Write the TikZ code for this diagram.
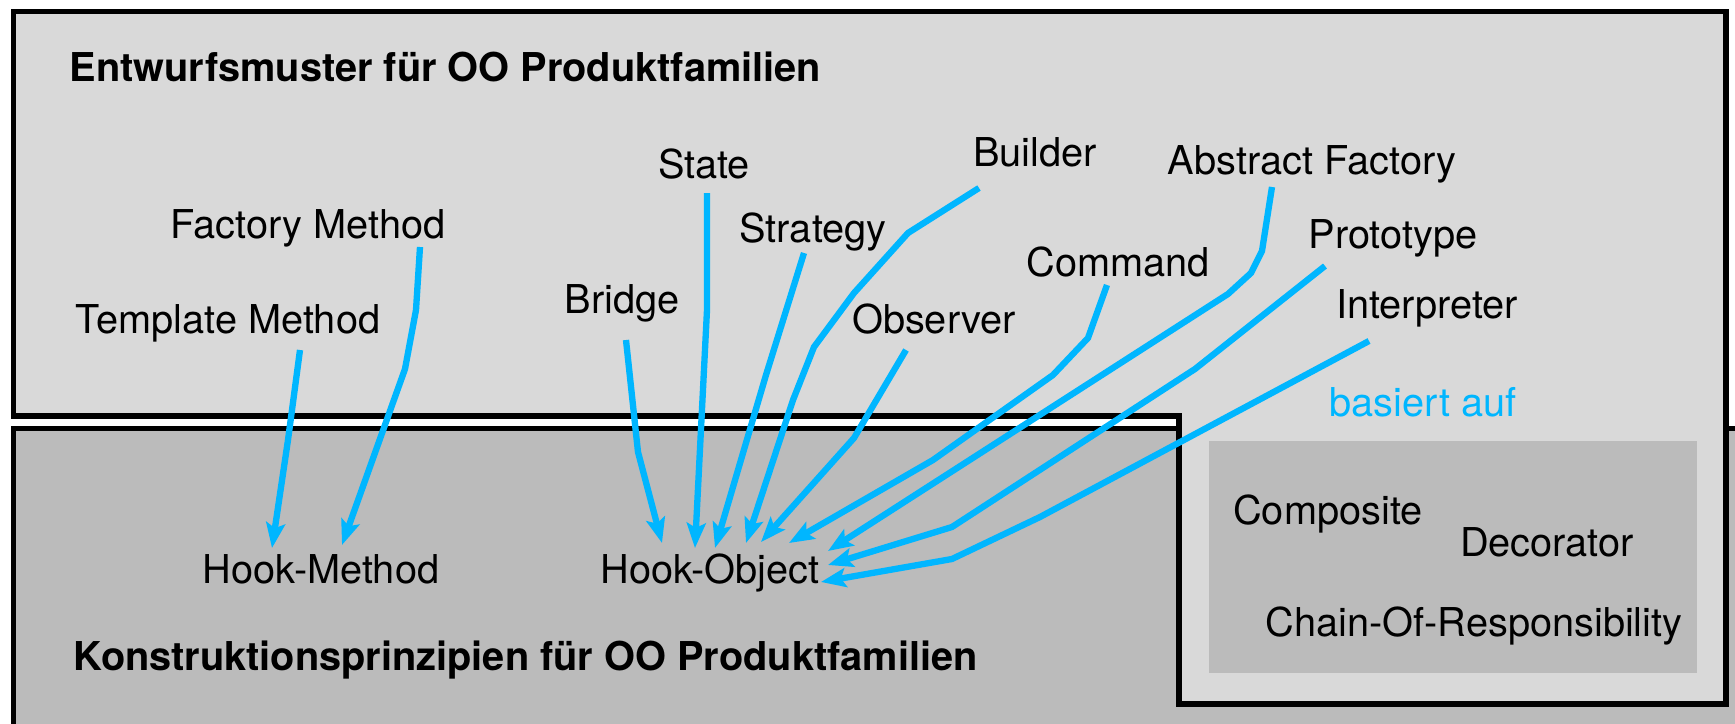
\documentclass[tikz,border=0pt]{standalone}
\usepackage{fontspec}
\setmainfont{TeX Gyre Heros}
\usetikzlibrary{arrows.meta}
\definecolor{boxlight}{RGB}{217,217,217}
\definecolor{boxdark}{RGB}{187,187,187}
\definecolor{basisblue}{RGB}{0,182,255}

\begin{document}
\begin{tikzpicture}[x=0.01cm, y=-0.01cm,
    every node/.style={font=\fontsize{11.3}{13.5}\selectfont, inner sep=0pt, anchor=base},
    titel/.style={font=\fontsize{11.3}{13.5}\selectfont\bfseries, anchor=base west},
    basis/.style={basisblue, line width=1.8pt,
      -{Stealth[length=0.25cm, width=0.19cm, inset=0.05cm]}}]
      \useasboundingbox (0,0) rectangle (1735,724);

      % Lower box
      \fill[boxdark] (13.5,428.5) rectangle (1745,735);
      \draw[line width=1.55pt] (13.5,735) -- (13.5,428.5) -- (1745,428.5);

      % Upper box with tab
      \draw[fill=boxlight, line width=1.55pt]
        (13.5,11.5) -- (1726,11.5) -- (1726,704) -- (1179,704)
        -- (1179,416) -- (13.5,416) -- cycle;

      % Inner box
      \fill[boxdark] (1209,441) rectangle (1697,673);

      % Titles
      \node[titel] (entw) at (69,81) {Entwurfsmuster für OO Produktfamilien};
      \node[titel] (konstr) at (73,670) {Konstruktionsprinzipien für OO Produktfamilien};

      % Patterns
      \node (tmpl) at (228,333) {Template Method};
      \node (fact) at (308,238) {Factory Method};
      \node (bridge) at (622,313) {Bridge};
      \node (state) at (704,178) {State};
      \node (strat) at (813,242) {Strategy};
      \node (builder) at (1035,166) {Builder};
      \node (observer) at (934,333) {Observer};
      \node (command) at (1118,276) {Command};
      \node (absfac) at (1312,174) {Abstract Factory};
      \node (proto) at (1393,248) {Prototype};
      \node (interp) at (1427,318) {Interpreter};
      \node[text=basisblue] (basiert) at (1423,416) {basiert auf};

      % Principles
      \node (hmeth) at (321,583) {Hook-Method};
      \node (hobj) at (710,583) {Hook-Object};
      \node (comp) at (1328,524) {Composite};
      \node (deco) at (1547,556) {Decorator};
      \node (chain) at (1474,636) {Chain-Of-Responsibility};

      % Arrows
      \draw[basis] ([shift={(72,17)}]tmpl.base) -- (288,440) -- ([shift={(-49,-35)}]hmeth.base);
      \draw[basis] ([shift={(112,9)}]fact.base) -- (416,310) -- (405,369) -- ([shift={(21,-38)}]hmeth.base);
      \draw[basis] ([shift={(4,27)}]bridge.base) -- (638,452) -- ([shift={(-48,-40)}]hobj.base);
      \draw[basis] ([shift={(3,15)}]state.base) -- (707,310) -- ([shift={(-15,-35)}]hobj.base);
      \draw[basis] ([shift={(-9,11)}]strat.base) -- (766,375) -- ([shift={(5,-35)}]hobj.base);
      \draw[basis] ([shift={(-56,22)}]builder.base) -- (908,233) -- (854,293) -- (814,347)
        -- (793,400) -- ([shift={(36,-40)}]hobj.base);
      \draw[basis] ([shift={(-28,17)}]observer.base) -- (854,438) -- ([shift={(51,-41)}]hobj.base);
      \draw[basis] ([shift={(-11,9)}]command.base) -- (1088,338) -- (1053,375) -- (933,460)
        -- ([shift={(79,-40)}]hobj.base);
      \draw[basis] ([shift={(-40,13)}]absfac.base) -- (1262,251) -- (1251,273) -- (1228,294)
        -- ([shift={(118,-32)}]hobj.base);
      \draw[basis] ([shift={(-68,18)}]proto.base) -- (1195,369) -- (952,527)
        -- ([shift={(118,-18)}]hobj.base);
      \draw[basis] ([shift={(-58,23)}]interp.base) -- (1040,517) -- (952,559)
        -- ([shift={(111,-1)}]hobj.base);
    \end{tikzpicture}
\end{document}
